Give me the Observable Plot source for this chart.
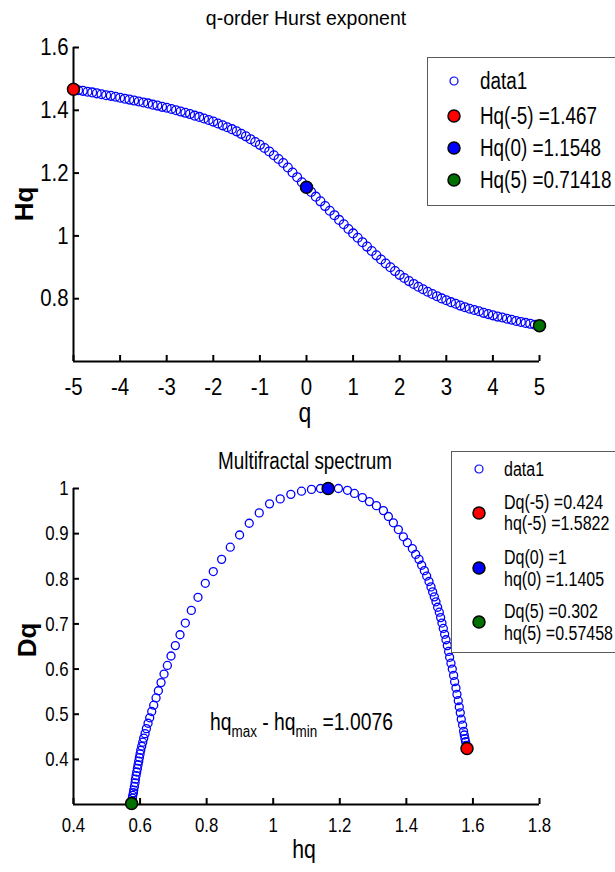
<!DOCTYPE html>
<html><head><meta charset="utf-8">
<script src="https://cdn.jsdelivr.net/npm/d3@7"></script>
<script src="https://cdn.jsdelivr.net/npm/@observablehq/plot@0.6"></script>
<style>
html,body{margin:0;padding:0;background:#fff;}
#wrap{position:relative;width:615px;height:872px;overflow:hidden;background:#fff;}
#wrap svg.plot{position:absolute;left:0;}
.t{position:absolute;white-space:nowrap;line-height:1;color:#000;font-family:'Liberation Sans',Arial,sans-serif;}
.legend{position:absolute;background:#fff;border:1px solid #5a5a5a;box-sizing:border-box;}
sub{font-size:16px;vertical-align:baseline;position:relative;top:7px;}
</style>
</head><body>
<div id="wrap"></div>
<script>
// ---------- data ----------
const q = [-5,-4.9,-4.8,-4.7,-4.6,-4.5,-4.4,-4.3,-4.2,-4.1,-4,-3.9,-3.8,-3.7,-3.6,-3.5,-3.4,-3.3,-3.2,-3.1,-3,-2.9,-2.8,-2.7,-2.6,-2.5,-2.4,-2.3,-2.2,-2.1,-2,-1.9,-1.8,-1.7,-1.6,-1.5,-1.4,-1.3,-1.2,-1.1,-1,-0.9,-0.8,-0.7,-0.6,-0.5,-0.4,-0.3,-0.2,-0.1,0,0.1,0.2,0.3,0.4,0.5,0.6,0.7,0.8,0.9,1,1.1,1.2,1.3,1.4,1.5,1.6,1.7,1.8,1.9,2,2.1,2.2,2.3,2.4,2.5,2.6,2.7,2.8,2.9,3,3.1,3.2,3.3,3.4,3.5,3.6,3.7,3.8,3.9,4,4.1,4.2,4.3,4.4,4.5,4.6,4.7,4.8,4.9,5];
const Hq = [1.467,1.464,1.462,1.459,1.457,1.454,1.451,1.448,1.446,1.443,1.440,1.437,1.434,1.431,1.428,1.425,1.422,1.418,1.415,1.411,1.408,1.404,1.400,1.396,1.392,1.388,1.383,1.379,1.374,1.369,1.364,1.358,1.352,1.346,1.340,1.333,1.325,1.317,1.308,1.299,1.290,1.280,1.269,1.257,1.245,1.232,1.218,1.202,1.187,1.171,1.155,1.140,1.125,1.110,1.095,1.080,1.066,1.051,1.037,1.022,1.008,0.994,0.980,0.966,0.952,0.938,0.925,0.912,0.900,0.888,0.876,0.866,0.856,0.847,0.838,0.830,0.822,0.815,0.808,0.801,0.795,0.789,0.784,0.778,0.773,0.768,0.764,0.760,0.755,0.751,0.747,0.743,0.740,0.736,0.733,0.729,0.726,0.723,0.720,0.717,0.714];
const hq = [1.582,1.580,1.578,1.576,1.574,1.572,1.569,1.565,1.562,1.559,1.556,1.552,1.549,1.545,1.542,1.538,1.534,1.530,1.527,1.523,1.519,1.515,1.511,1.507,1.503,1.499,1.494,1.489,1.484,1.479,1.474,1.468,1.461,1.454,1.446,1.438,1.428,1.418,1.403,1.391,1.376,1.361,1.346,1.331,1.310,1.289,1.268,1.244,1.223,1.196,1.165,1.142,1.115,1.085,1.053,1.021,0.989,0.958,0.928,0.899,0.871,0.845,0.820,0.796,0.774,0.754,0.736,0.720,0.706,0.693,0.682,0.672,0.663,0.655,0.648,0.641,0.635,0.629,0.624,0.619,0.615,0.611,0.608,0.605,0.602,0.600,0.598,0.596,0.594,0.592,0.590,0.588,0.586,0.585,0.583,0.581,0.580,0.578,0.577,0.576,0.575];
const Dq = [0.424,0.431,0.439,0.446,0.454,0.462,0.476,0.489,0.503,0.516,0.530,0.544,0.558,0.572,0.586,0.600,0.613,0.626,0.639,0.652,0.665,0.677,0.690,0.702,0.714,0.726,0.737,0.749,0.760,0.771,0.782,0.794,0.806,0.818,0.830,0.843,0.854,0.867,0.880,0.893,0.909,0.924,0.938,0.951,0.962,0.971,0.980,0.989,0.996,1.000,1.000,1.000,0.998,0.994,0.987,0.977,0.966,0.946,0.923,0.897,0.870,0.843,0.816,0.790,0.759,0.730,0.702,0.676,0.652,0.629,0.608,0.589,0.570,0.552,0.536,0.520,0.506,0.492,0.480,0.468,0.457,0.447,0.438,0.429,0.420,0.412,0.404,0.396,0.388,0.380,0.372,0.364,0.356,0.348,0.340,0.332,0.326,0.320,0.314,0.308,0.302];

// highlighted points (q = -5, 0, 5)
const markQ = [-5, 0, 5];
const markHq = [1.467, 1.1548, 0.71418];
const markhq = [1.5822, 1.165, 0.57458];
const markDq = [0.424, 1, 0.302];
const markColor = ["#ff0000", "#0000ff", "#007000"];

// tick labels
const qTicks = [-5,-4,-3,-2,-1,0,1,2,3,4,5];
const HqTicks = [0.8,1,1.2,1.4,1.6];
const hqTicks = [0.4,0.6,0.8,1,1.2,1.4,1.6,1.8];
const DqTicks = [0.4,0.5,0.6,0.7,0.8,0.9,1];

// texts
const topTitle = "q-order Hurst exponent";
const botTitle = "Multifractal spectrum";
const topLegend = ["data1", "Hq(-5) =1.467", "Hq(0) =1.1548", "Hq(5) =0.71418"];
const botLegend = ["data1", ["Dq(-5) =0.424", "hq(-5) =1.5822"], ["Dq(0) =1", "hq(0) =1.1405"], ["Dq(5) =0.302", "hq(5) =0.57458"]];
const widthText = "=1.0076";

// ---------- build ----------
const FONT = "'Liberation Sans',Arial,sans-serif";
const wrap = document.getElementById("wrap");
const series = q.map((v, i) => ({q: v, H: Hq[i], h: hq[i], D: Dq[i]}));
const marks = markQ.map((v, i) => ({q: v, H: markHq[i], h: markhq[i], D: markDq[i], c: markColor[i]}));

function condense(svg, k) {
  svg.querySelectorAll("text").forEach(t => {
    const L = t.getComputedTextLength();
    t.setAttribute("textLength", L * k);
    t.setAttribute("lengthAdjust", "spacingAndGlyphs");
  });
}

const topPlot = Plot.plot({
  width: 615, height: 436,
  marginLeft: 73, marginRight: 76, marginTop: 47, marginBottom: 75,
  x: {domain: [-5, 5]},
  y: {domain: [0.6, 1.6]},
  style: {fontFamily: FONT, fontSize: "24px", color: "#000", background: "transparent", overflow: "visible"},
  marks: [
    Plot.ruleX([-5], {stroke: "#000", strokeWidth: 2}),
    Plot.ruleY([0.6], {stroke: "#000", strokeWidth: 2}),
    Plot.axisX({ticks: qTicks, tickSize: -6, tickPadding: 22, strokeWidth: 2, label: null, tickFormat: d => String(d), fontSize: 24}),
    Plot.axisY({ticks: HqTicks, tickSize: -6, tickPadding: 11, strokeWidth: 2, label: null, tickFormat: d => String(d), fontSize: 24}),
    Plot.dot(series, {x: "q", y: "H", r: 4.4, stroke: "#0000ff", strokeWidth: 1.3, fill: "none"}),
    Plot.dot(marks, {x: "q", y: "H", r: 6, fill: "c", stroke: "#000", strokeWidth: 1.5})
  ]
});
topPlot.classList.add("plot");
topPlot.style.top = "0px";
wrap.appendChild(topPlot);
condense(topPlot, 0.85);

const botPlot = Plot.plot({
  width: 615, height: 436,
  marginLeft: 73, marginRight: 76, marginTop: 52, marginBottom: 68,
  x: {domain: [0.4, 1.8]},
  y: {domain: [0.3, 1]},
  style: {fontFamily: FONT, fontSize: "21px", color: "#000", background: "transparent", overflow: "visible"},
  marks: [
    Plot.ruleX([0.4], {stroke: "#000", strokeWidth: 2}),
    Plot.ruleY([0.3], {stroke: "#000", strokeWidth: 2}),
    Plot.axisX({ticks: hqTicks, tickSize: -6, tickPadding: 19, strokeWidth: 2, label: null, tickFormat: d => String(d), fontSize: 21}),
    Plot.axisY({ticks: DqTicks, tickSize: -6, tickPadding: 11, strokeWidth: 2, label: null, tickFormat: d => String(d), fontSize: 21}),
    Plot.dot(series, {x: "h", y: "D", r: 4, stroke: "#0000ff", strokeWidth: 1.3, fill: "none"}),
    Plot.dot(marks, {x: "h", y: "D", r: 6, fill: "c", stroke: "#000", strokeWidth: 1.5})
  ]
});
botPlot.classList.add("plot");
botPlot.style.top = "436px";
wrap.appendChild(botPlot);
condense(botPlot, 0.8);

// ---------- text helpers ----------
function txt(html, x, base, size, anchor = "middle", k = 1, weight = "normal") {
  const d = document.createElement("div");
  d.className = "t";
  d.innerHTML = html;
  d.style.fontSize = size + "px";
  d.style.fontWeight = weight;
  d.style.top = (base - 0.8465 * size) + "px";
  d.style.left = x + "px";
  if (anchor === "middle") {
    d.style.transformOrigin = "50% 50%";
    d.style.transform = `translateX(-50%) scaleX(${k})`;
  } else {
    d.style.transformOrigin = "0 50%";
    d.style.transform = `scaleX(${k})`;
  }
  wrap.appendChild(d);
  return d;
}
function rot(html, cx, cy, size, weight, k = 1) {
  const d = document.createElement("div");
  d.className = "t";
  d.innerHTML = html;
  d.style.fontSize = size + "px";
  d.style.fontWeight = weight;
  d.style.left = cx + "px";
  d.style.top = cy + "px";
  d.style.transform = `translate(-50%,-50%) rotate(-90deg) scaleX(${k})`;
  wrap.appendChild(d);
}
function dotSvg(x, y, r, fill, stroke, sw) {
  const s = document.createElementNS("http://www.w3.org/2000/svg", "svg");
  s.setAttribute("width", 20); s.setAttribute("height", 20);
  s.style.position = "absolute"; s.style.left = (x - 10) + "px"; s.style.top = (y - 10) + "px";
  const c = document.createElementNS("http://www.w3.org/2000/svg", "circle");
  c.setAttribute("cx", 10); c.setAttribute("cy", 10); c.setAttribute("r", r);
  c.setAttribute("fill", fill); c.setAttribute("stroke", stroke); c.setAttribute("stroke-width", sw);
  s.appendChild(c);
  wrap.appendChild(s);
}

// titles and axis labels
txt(topTitle, 306, 25, 20.5, "middle", 0.95);
txt("q", 305, 423, 27, "middle", 0.85);
rot("Hq", 24, 204, 26, "bold", 1);
txt(botTitle, 305, 469, 23, "middle", 0.82);
txt("hq", 304, 858, 25, "middle", 0.85);
rot("Dq", 27, 640, 26, "bold", 1);
txt("hq<sub>max</sub> - hq<sub>min</sub> " + widthText, 210, 730, 23, "start", 0.84);

// top legend
const lg1 = document.createElement("div");
lg1.className = "legend";
Object.assign(lg1.style, {left: "427px", top: "57px", width: "220px", height: "149px"});
wrap.appendChild(lg1);
const rows1 = [81, 116, 148, 180];
dotSvg(454, rows1[0], 4, "none", "#0000ff", 1.2);
txt(topLegend[0], 480, rows1[0] + 8, 23, "start", 0.82);
for (let i = 0; i < 3; i++) {
  dotSvg(454, rows1[i + 1], 6, markColor[i], "#000", 1.5);
  txt(topLegend[i + 1], 480, rows1[i + 1] + 8, 23, "start", 0.82);
}

// bottom legend
const lg2 = document.createElement("div");
lg2.className = "legend";
Object.assign(lg2.style, {left: "451px", top: "451px", width: "220px", height: "202px"});
wrap.appendChild(lg2);
dotSvg(479, 469, 4, "none", "#0000ff", 1.2);
txt(botLegend[0], 504, 476, 20, "start", 0.8);
const grp = [[502, 523], [557, 579], [611, 633]];
for (let i = 0; i < 3; i++) {
  dotSvg(479, (grp[i][0] + grp[i][1]) / 2, 6, markColor[i], "#000", 1.5);
  txt(botLegend[i + 1][0], 504, grp[i][0] + 7, 20, "start", 0.8);
  txt(botLegend[i + 1][1], 504, grp[i][1] + 7, 20, "start", 0.8);
}
</script>
</body></html>
